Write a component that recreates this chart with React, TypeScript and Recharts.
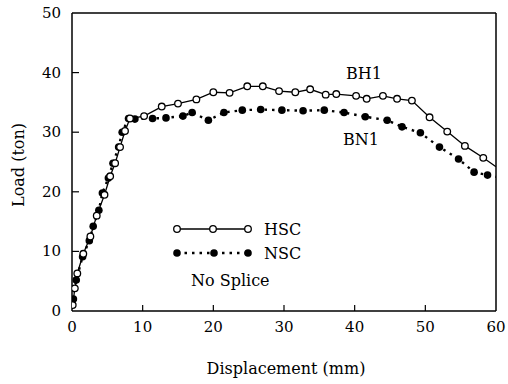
import React from 'react';
import { LineChart, Line, XAxis, YAxis } from 'recharts';

const xTicks = [0, 10, 20, 30, 40, 50, 60];
const yTicks = [0, 10, 20, 30, 40, 50];

const hscX = [0.1, 0.4, 0.75, 1.6, 2.6, 3.5, 4.6, 5.4, 6.1, 6.8, 7.5, 8.2, 10.2, 12.7, 15.0, 17.6, 20.0, 22.3, 24.8, 27.0, 29.3, 31.6, 33.7, 35.9, 37.4, 40.2, 41.7, 44.0, 46.0, 48.1, 50.6, 53.1, 55.6, 58.2, 60.0];
const hscY = [1.0, 3.8, 6.3, 9.6, 12.5, 16.0, 19.5, 22.6, 24.8, 27.5, 30.2, 32.3, 32.7, 34.3, 34.8, 35.5, 36.7, 36.6, 37.7, 37.7, 36.9, 36.7, 37.2, 36.3, 36.4, 36.1, 35.6, 36.1, 35.6, 35.3, 32.5, 30.1, 27.7, 25.7, 24.2];

const nscX = [0.2, 0.6, 1.5, 2.45, 3.0, 3.8, 4.3, 5.15, 5.8, 6.6, 7.1, 8.0, 8.9, 11.4, 13.3, 15.7, 17.0, 19.3, 21.5, 24.1, 26.7, 29.7, 32.7, 35.7, 38.5, 41.5, 44.6, 46.7, 49.3, 52.0, 54.7, 56.9, 58.8, 60.0];
const nscY = [2.0, 5.2, 9.1, 11.8, 14.2, 16.9, 19.8, 22.3, 24.8, 27.5, 30.0, 32.3, 32.2, 32.3, 32.4, 32.7, 33.3, 32.0, 33.3, 33.7, 33.8, 33.7, 33.6, 33.7, 33.3, 32.6, 32.0, 30.9, 29.9, 27.5, 25.5, 23.3, 22.8, 22.5];

const hscData = hscX.map((x, i) => ({ x, y: hscY[i] }));
const nscData = nscX.map((x, i) => ({ x, y: nscY[i] }));

const FONT = 'DejaVu Serif';

const BottomTick = (p: any) => (
  <g>
    {p.payload.value > 0 && p.payload.value < 60 && (
      <line x1={p.x} y1={p.y} x2={p.x} y2={p.y - 6} stroke="#000" strokeWidth={1.2} />
    )}
    <text x={p.x} y={p.y + 21} textAnchor="middle" fontFamily={FONT} fontSize={15} fill="#000">
      {p.payload.value}
    </text>
  </g>
);
const TopTick = (p: any) =>
  p.payload.value > 0 && p.payload.value < 60 ? (
    <line x1={p.x} y1={p.y} x2={p.x} y2={p.y + 6} stroke="#000" strokeWidth={1.2} />
  ) : (
    <g />
  );
const LeftTick = (p: any) => (
  <g>
    {p.payload.value > 0 && p.payload.value < 50 && (
      <line x1={p.x} y1={p.y} x2={p.x + 7} y2={p.y} stroke="#000" strokeWidth={1.2} />
    )}
    <text x={p.x - 11} y={p.y + 5} textAnchor="end" fontFamily={FONT} fontSize={15} fill="#000">
      {p.payload.value}
    </text>
  </g>
);
const RightTick = (p: any) =>
  p.payload.value > 0 && p.payload.value < 50 ? (
    <line x1={p.x} y1={p.y} x2={p.x - 7} y2={p.y} stroke="#000" strokeWidth={1.2} />
  ) : (
    <g />
  );

const OpenDot = (p: any) =>
  p.payload && p.payload.x >= 60 ? (
    <g key={p.index} />
  ) : (
    <circle key={p.index} cx={p.cx} cy={p.cy} r={3.3} fill="#fff" stroke="#000" strokeWidth={1.3} />
  );
const FilledDot = (p: any) =>
  p.payload && p.payload.x >= 60 ? (
    <g key={p.index} />
  ) : (
    <circle key={p.index} cx={p.cx} cy={p.cy} r={3.8} fill="#000" stroke="none" />
  );

export default function App() {
  return (
    <div style={{ position: 'absolute', left: 0, top: 0, width: 508, height: 384, background: '#fff' }}>
      <LineChart width={508} height={384} margin={{ top: 12, right: 0, bottom: 0, left: 0 }}>
        <XAxis
          xAxisId="b"
          type="number"
          dataKey="x"
          domain={[0, 60]}
          ticks={xTicks}
          orientation="bottom"
          height={73}
          tickLine={false}
          tickSize={0}
          tickMargin={0}
          tick={<BottomTick />}
          axisLine={{ stroke: '#000', strokeWidth: 1.5 }}
          allowDataOverflow
        />
        <XAxis
          xAxisId="t"
          type="number"
          dataKey="x"
          domain={[0, 60]}
          ticks={xTicks}
          orientation="top"
          height={1}
          tickLine={false}
          tickSize={0}
          tickMargin={0}
          tick={<TopTick />}
          axisLine={{ stroke: '#000', strokeWidth: 1.5 }}
        />
        <YAxis
          yAxisId="l"
          type="number"
          domain={[0, 50]}
          ticks={yTicks}
          orientation="left"
          width={72}
          tickLine={false}
          tickSize={0}
          tickMargin={0}
          tick={<LeftTick />}
          axisLine={{ stroke: '#000', strokeWidth: 1.5 }}
          allowDataOverflow
        />
        <YAxis
          yAxisId="r"
          type="number"
          domain={[0, 50]}
          ticks={yTicks}
          orientation="right"
          width={12}
          tickLine={false}
          tickSize={0}
          tickMargin={0}
          tick={<RightTick />}
          axisLine={{ stroke: '#000', strokeWidth: 1.5 }}
        />
        <Line
          xAxisId="b"
          yAxisId="l"
          data={nscData}
          dataKey="y"
          type="linear"
          stroke="#000"
          strokeWidth={2.4}
          strokeDasharray="2.5 5"
          dot={<FilledDot />}
          isAnimationActive={false}
        />
        <Line
          xAxisId="b"
          yAxisId="l"
          data={hscData}
          dataKey="y"
          type="linear"
          stroke="#000"
          strokeWidth={1.3}
          dot={<OpenDot />}
          isAnimationActive={false}
        />
      </LineChart>
      <svg
        width={508}
        height={384}
        style={{ position: 'absolute', left: 0, top: 0, pointerEvents: 'none' }}
        fontFamily={FONT}
      >
        <text x={286} y={374} textAnchor="middle" fontSize={16} fill="#000">Displacement (mm)</text>
        <text x={24} y={165} textAnchor="middle" fontSize={16} fill="#000" transform="rotate(-90 24 165)">Load (ton)</text>
        <text x={364} y={79} textAnchor="middle" fontSize={16} fill="#000">BH1</text>
        <text x={361} y={145} textAnchor="middle" fontSize={16} fill="#000">BN1</text>
        <line x1={177} y1={229} x2={248} y2={229} stroke="#000" strokeWidth={1.3} />
        <circle cx={177} cy={229} r={3.3} fill="#fff" stroke="#000" strokeWidth={1.3} />
        <circle cx={213} cy={229} r={3.3} fill="#fff" stroke="#000" strokeWidth={1.3} />
        <circle cx={248} cy={229} r={3.3} fill="#fff" stroke="#000" strokeWidth={1.3} />
        <text x={264} y={235} fontSize={16} fill="#000">HSC</text>
        <line x1={177} y1={253} x2={248} y2={253} stroke="#000" strokeWidth={2.4} strokeDasharray="2.5 5" />
        <circle cx={177} cy={253} r={3.8} fill="#000" />
        <circle cx={214} cy={253} r={3.8} fill="#000" />
        <circle cx={248} cy={253} r={3.8} fill="#000" />
        <text x={264} y={259} fontSize={16} fill="#000">NSC</text>
        <text x={191} y={286} fontSize={16} fill="#000">No Splice</text>
      </svg>
    </div>
  );
}
